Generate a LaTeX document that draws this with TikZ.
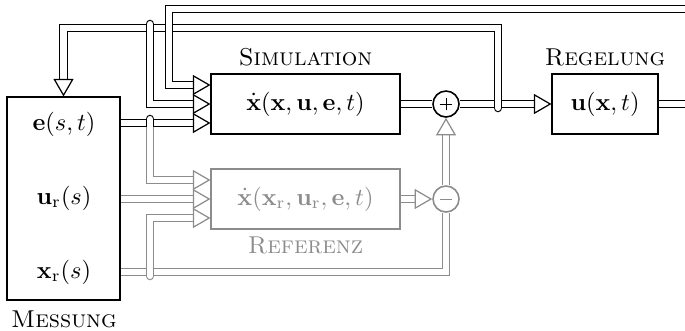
\documentclass[tikz,border=0pt]{standalone}
\usetikzlibrary{arrows.meta}
\definecolor{refgray}{gray}{0.55}
\tikzset{
  x=0.41pt, y=-0.41pt,
  dbl/.style={line width=0.5pt, double=white, double distance=2.5pt},
  tip/.style={-{Triangle[length=7.2pt,width=8.2pt,fill=white]}},
  blk/.style={draw=black, line width=0.45pt, fill=white, inner sep=0pt},
  sumc/.style={draw, circle, line width=0.65pt, minimum size={26*0.41pt}, inner sep=0pt, fill=white},
  lbl/.style={anchor=base, font=\scshape},
}
\begin{document}
\begin{tikzpicture}
\useasboundingbox (0,0) rectangle (685,330);
\clip (0,0) rectangle (685,330);
% blocks
\node[blk, minimum width={113*0.41pt}, minimum height={203*0.41pt}] (msg) at (63.5,198.5) {};
\node[blk, minimum width={189*0.41pt}, minimum height={60*0.41pt}] (sim) at (305.5,104) {$\dot{\mathbf{x}}(\mathbf{x},\mathbf{u},\mathbf{e},t)$};
\node[blk, draw=refgray, text=refgray, minimum width={189*0.41pt}, minimum height={60*0.41pt}] (ref) at (305.5,199) {$\dot{\mathbf{x}}(\mathbf{x}_\mathrm{r},\mathbf{u}_\mathrm{r},\mathbf{e},t)$};
\node[blk, minimum width={106*0.41pt}, minimum height={60*0.41pt}] (reg) at (605,104) {$\mathbf{u}(\mathbf{x},t)$};
\node[sumc] (plus) at (446,104) {};
\node[sumc, draw=refgray] (minus) at (446,199) {};
\draw[line width=0.4pt] ([xshift=-2.6pt]plus.center) -- ([xshift=2.6pt]plus.center);
\draw[line width=0.4pt] ([yshift=-2.6pt]plus.center) -- ([yshift=2.6pt]plus.center);
\draw[line width=0.4pt, refgray] ([xshift=-2.6pt]minus.center) -- ([xshift=2.6pt]minus.center);
% texts in Messung
\node (et) at (64,124) {$\mathbf{e}(s,t)$};
\node (ur) at (64,198) {$\mathbf{u}_\mathrm{r}(s)$};
\node (xr) at (64,272) {$\mathbf{x}_\mathrm{r}(s)$};
% labels
\node[lbl] (simlbl) at (305.5,65) {Simulation};
\node[lbl] (reglbl) at (605,65) {Regelung};
\node[lbl, text=refgray] (reflbl) at (305.5,253) {Referenz};
\node[lbl] (msglbl) at (64,327) {Messung};
% connectors
\draw[dbl,tip] (msg.east |- 0,123) -- (sim.west |- 0,123);
\draw[dbl, line cap=round] (150,119) -- (150,127);
\draw[dbl, draw=refgray, tip] (150,127) |- (ref.west |- 0,180);
\draw[dbl, draw=refgray, tip] (msg.east |- 0,199) -- (ref.west);
\draw[dbl, draw=refgray] (msg.east |- 0,272) -| (minus.south);
\draw[dbl, draw=refgray, tip, line cap=round] (150,276) |- (ref.west |- 0,218);
\draw[dbl, draw=refgray, tip] (ref.east) -- (minus.west);
\draw[dbl, draw=refgray, tip] (minus.north) -- (plus.south);
\draw[dbl] (sim.east) -- (plus.west);
\draw[dbl, tip] (plus.east) -- (reg.west);
\draw[dbl, tip, line cap=round] (498,108) |- (63.5,28) -- (msg.north);
\draw[dbl, tip, line cap=round] (150,24) |- (sim.west);
\draw[dbl, tip] (reg.east) -- (700,104) |- (169,9) |- (sim.west |- 0,85);
\end{tikzpicture}
\end{document}
